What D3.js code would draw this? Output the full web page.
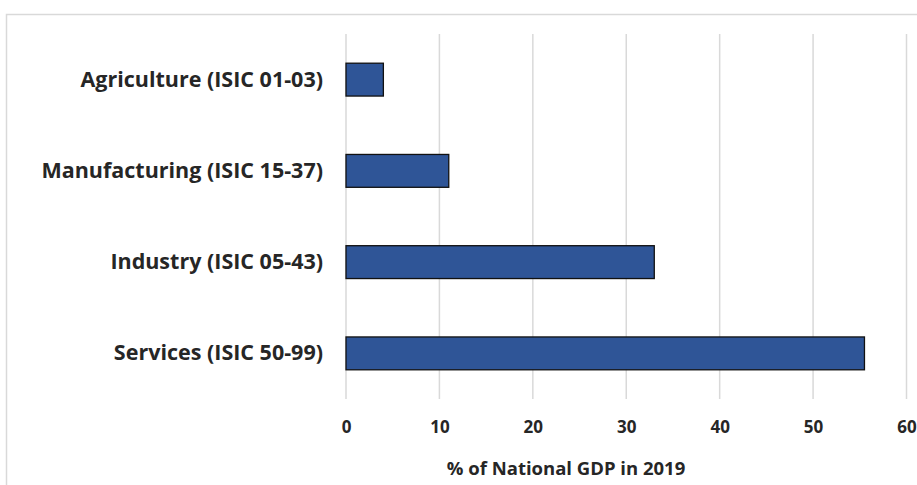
<!DOCTYPE html>
<html>
<head>
<meta charset="utf-8">
<script src="https://cdn.jsdelivr.net/npm/d3@7"></script>
<style>
  html, body { margin: 0; padding: 0; background: #fff; }
  svg { display: block; }
  text { font-family: "Open Sans", Lato, sans-serif; font-weight: bold; fill: #262626; }
</style>
</head>
<body>
<svg id="chart" width="917" height="485"></svg>
<script>
// Sector shares of national GDP, 2019
const categories = [
  "Agriculture (ISIC 01-03)",
  "Manufacturing (ISIC 15-37)",
  "Industry (ISIC 05-43)",
  "Services (ISIC 50-99)"
];
const values = [4.0, 11.0, 33.0, 55.5];
const xTicks = [0, 10, 20, 30, 40, 50, 60];
const xTitle = "% of National GDP in 2019";

const svg = d3.select("#chart");
const FONT = "'Open Sans', Lato, sans-serif";

// chart frame
svg.append("rect")
  .attr("x", 6.5).attr("y", 14.5)
  .attr("width", 930).attr("height", 500)
  .attr("fill", "none")
  .attr("stroke", "#d9d9d9")
  .attr("stroke-width", 1.5);

const plot = { left: 346, right: 906.5, top: 34, bottom: 399 };

const x = d3.scaleLinear().domain([0, 60]).range([plot.left, plot.right]);
const y = d3.scaleBand().domain(categories).range([plot.top, plot.bottom]).paddingInner(0.64).paddingOuter(0.32);

// vertical gridlines
svg.append("g")
  .selectAll("line")
  .data(xTicks)
  .join("line")
  .attr("x1", d => x(d)).attr("x2", d => x(d))
  .attr("y1", plot.top).attr("y2", plot.bottom)
  .attr("stroke", "#d9d9d9")
  .attr("stroke-width", 1.5);

// bars
svg.append("g")
  .selectAll("rect")
  .data(values)
  .join("rect")
  .attr("x", x(0))
  .attr("y", (d, i) => y(categories[i]))
  .attr("width", d => x(d) - x(0))
  .attr("height", y.bandwidth())
  .attr("fill", "#2F5597")
  .attr("stroke", "#111")
  .attr("stroke-width", 1.3);

// x axis tick labels
const xAxis = d3.axisBottom(x).tickValues(xTicks).tickSize(0).tickPadding(0);
const gx = svg.append("g").attr("transform", `translate(0, 421)`).call(xAxis);
gx.select(".domain").remove();
gx.selectAll("text")
  .attr("dy", "0.71em")
  .style("font-size", "17px")
  .style("font-family", FONT)
  .style("font-weight", "bold")
  .attr("fill", "#262626");

// category labels
const yAxis = d3.axisLeft(y).tickSize(0).tickPadding(23);
const gy = svg.append("g").attr("transform", `translate(${plot.left}, 0)`).call(yAxis);
gy.select(".domain").remove();
gy.selectAll("text")
  .style("font-size", "21.5px")
  .style("font-family", FONT)
  .style("font-weight", "bold")
  .attr("fill", "#262626");

// axis title
svg.append("text")
  .attr("x", 566).attr("y", 470)
  .attr("text-anchor", "middle")
  .attr("dominant-baseline", "middle")
  .style("font-size", "18.5px")
  .text(xTitle);
</script>
</body>
</html>
